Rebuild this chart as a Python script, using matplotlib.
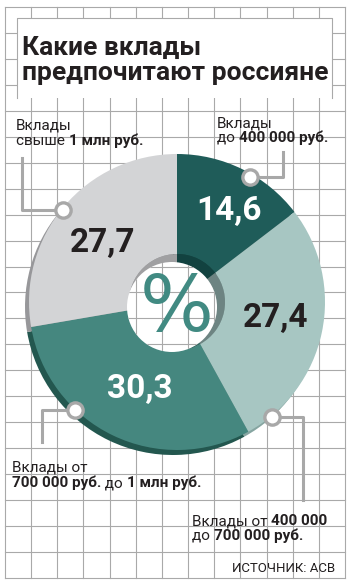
import matplotlib
matplotlib.use("AGG")
import matplotlib.pyplot as plt
from matplotlib.patches import Circle, Rectangle

# data
shares = [14.6, 27.4, 30.3, 27.7]
share_labels = ["14,6", "27,4", "30,3", "27,7"]
colors = ["#1f5c59", "#a7c6c2", "#45877f", "#d3d4d6"]
rim_colors = ["#17433f", "#86a5a1", "#23574f", "#97979a"]
inner_colors = ["#124240", "#6d8482", "#2c625b", "#a0a0a2"]
title = "Какие вклады\nпредпочитают россияне"
source = "ИСТОЧНИК: АСВ"

W, H = 352, 588
INK = "#231f20"
GRID = "#a9a9a9"
LEAD = "#a8a8a8"

def Y(y):
    return H - y

fig = plt.figure(figsize=(W / 100, H / 100), dpi=100)
ax = fig.add_axes([0, 0, 1, 1])
fig.patch.set_facecolor("white")

# background grid
gx = [5 + 26.15 * k for k in range(14)]
gy = [7 + 25.95 * k for k in range(23)]
def draw_grid(z, clip=None):
    lines = []
    for x in gx:
        lines += ax.plot([x, x], [Y(gy[0]), Y(gy[-1])], color=GRID, lw=0.8, zorder=z)
    for y in gy:
        lines += ax.plot([gx[0], gx[-1]], [Y(y), Y(y)], color=GRID, lw=0.8, zorder=z)
    if clip is not None:
        for ln in lines:
            ln.set_clip_path(clip)
draw_grid(0)

# title box
ax.add_patch(Rectangle((17, Y(98)), 315, 80, facecolor="white", edgecolor="none", zorder=1))
ax.plot([17, 17, 332, 332], [Y(98), Y(18), Y(18), Y(98)], color=GRID, lw=0.8, zorder=1.5)
for i, line in enumerate(title.split("\n")):
    ax.text(22, Y(55 + 25 * i), line, fontsize=19, fontweight="bold", family="Roboto",
            color=INK, va="baseline", zorder=2)

# donut
cx, cy, R, r = 177, Y(302), 148, 48
ax.pie(shares, colors=rim_colors, startangle=90, counterclock=False,
       center=(cx - 4, cy - 5), radius=R, wedgeprops=dict(linewidth=0, zorder=1))
ax.pie(shares, colors=colors, startangle=90, counterclock=False,
       center=(cx, cy), radius=R, wedgeprops=dict(width=R - r, linewidth=0, zorder=2))
ax.pie(shares, colors=inner_colors, startangle=90, counterclock=False,
       center=(cx, cy), radius=r, wedgeprops=dict(linewidth=0, zorder=2))
hole = Circle((cx - 5, cy - 5), 45, facecolor="white", edgecolor="none", zorder=3)
ax.add_patch(hole)
draw_grid(3.5, clip=hole)
ax.text(cx, Y(309), "%", fontsize=56, family="DejaVu Sans", color="#418a82",
        ha="center", va="center", zorder=4)

# values
val_pos = [(229, 211, "white"), (276, 318, INK), (140, 389, "white"), (103, 243, INK)]
for lab, (x, y, c) in zip(share_labels, val_pos):
    ax.text(x, Y(y), lab, fontsize=24, fontweight="bold", family="Roboto",
            color=c, ha="center", va="center", zorder=5)

# leader lines
leaders = [
    [(63, 210), (22, 210), (22, 158)],
    [(250, 177), (283, 177), (283, 152)],
    [(75, 410), (42, 410), (42, 442)],
    [(272, 417), (303, 417), (303, 500)],
]
for pts in leaders:
    xs = [p[0] for p in pts]
    ys = [Y(p[1]) for p in pts]
    ax.plot(xs, ys, color=LEAD, lw=2.2, solid_joinstyle="round", zorder=5)
    ax.plot(xs[0], ys[0], "o", ms=11, mfc="white", mec=LEAD, mew=2.4, zorder=6)

renderer = fig.canvas.get_renderer()

def runs(x, y, parts, size=11):
    for txt, bold in parts:
        t = ax.text(x, Y(y), txt, fontsize=size, fontweight="bold" if bold else "normal",
                    family="Roboto", color=INK, va="baseline", ha="left", zorder=7)
        x += t.get_window_extent(renderer).width

runs(16, 130, [("Вклады", False)])
runs(16, 145, [("свыше ", False), ("1 млн руб.", True)])
runs(217, 127, [("Вклады", False)])
runs(217, 142, [("до ", False), ("400 000 руб.", True)])
runs(12, 472, [("Вклады от", False)])
runs(12, 487, [("700 000 руб.", True), (" до ", False), ("1 млн руб.", True)])
runs(192, 525, [("Вклады от ", False), ("400 000", True)])
runs(192, 540, [("до ", False), ("700 000 руб.", True)])

ax.text(335, Y(572), source, fontsize=9.5, family=["Liberation Sans Narrow", "Roboto"],
        color=INK, ha="right", va="baseline", zorder=7)

ax.set_xlim(0, W)
ax.set_ylim(0, H)
ax.set_aspect("auto")
ax.axis("off")
fig.savefig("out.png", dpi=100, facecolor="white")
